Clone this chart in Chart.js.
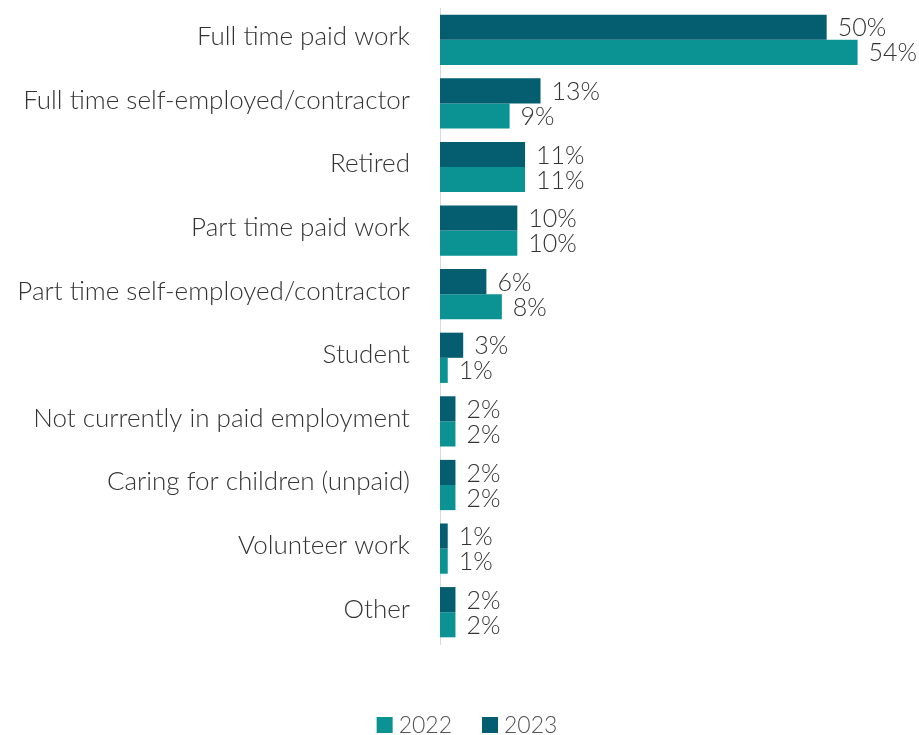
<!DOCTYPE html>
<html>
<head>
<meta charset="utf-8">
<script src="https://cdn.jsdelivr.net/npm/chart.js@4.4.1/dist/chart.umd.min.js"></script>
<style>
body{margin:0;background:#fff;}
#wrap{width:919px;height:735px;position:relative;}
</style>
</head>
<body>
<div id="wrap"><canvas id="workChart"></canvas></div>
<script>
const categories = [
"Full time paid work",
"Full time self-employed/contractor",
"Retired",
"Part time paid work",
"Part time self-employed/contractor",
"Student",
"Not currently in paid employment",
"Caring for children (unpaid)",
"Volunteer work",
"Other"
];
const values2023 = [50,13,11,10,6,3,2,2,1,2];
const values2022 = [54,9,11,10,8,1,2,2,1,2];

const FONT = "Lato, 'Open Sans', sans-serif";

// percentage text after each bar
const valueLabels = {
id:"valueLabels",
afterDatasetsDraw(chart){
const ctx = chart.ctx;
ctx.save();
ctx.font = "300 25px " + FONT;
ctx.fillStyle = "#333";
ctx.textBaseline = "middle";
ctx.textAlign = "left";
chart.data.datasets.forEach((ds,i)=>{
chart.getDatasetMeta(i).data.forEach((bar,j)=>{
ctx.fillText(ds.data[j] + "%", bar.x + 11, bar.y + 1);
});
});
ctx.restore();
}
};

// legend row at the bottom: 2022 then 2023
const bottomLegend = {
id:"bottomLegend",
afterDraw(chart){
const ctx = chart.ctx;
const items = chart.data.datasets.slice().reverse();
ctx.save();
ctx.font = "300 23px " + FONT;
ctx.textBaseline = "middle";
ctx.textAlign = "left";
const box = 16, gapText = 6, gapItem = 30;
let total = 0;
items.forEach((ds,i)=>{
total += box + gapText + ctx.measureText(ds.label).width + (i ? gapItem : 0);
});
let x = 467 - total/2;
const y = 725;
items.forEach(ds=>{
ctx.fillStyle = ds.backgroundColor;
ctx.fillRect(x, y - box/2, box, box);
x += box + gapText;
ctx.fillStyle = "#555";
ctx.fillText(ds.label, x, y + 1);
x += ctx.measureText(ds.label).width + gapItem;
});
ctx.restore();
}
};

new Chart(document.getElementById("workChart"),{
type:"bar",
data:{
labels:categories,
datasets:[
{label:"2023",data:values2023,backgroundColor:"#055e70"},
{label:"2022",data:values2022,backgroundColor:"#0b9393"}
]
},
options:{
indexAxis:"y",
responsive:true,
maintainAspectRatio:false,
animation:false,
categoryPercentage:0.79,
barPercentage:1.0,
layout:{padding:{top:8,right:15,bottom:0,left:0}},
scales:{
x:{
min:0,max:60,
grid:{display:false},
border:{display:false},
ticks:{display:false},
afterFit(scale){ scale.height = 91; }
},
y:{
grid:{display:false,drawTicks:false},
border:{display:true,color:"#d9d9d9",width:1},
ticks:{color:"#333",padding:30,labelOffset:-3,font:{family:FONT,size:26,weight:"300"}},
afterFit(scale){
scale.width = 440;
scale.paddingTop = 0;
scale.paddingBottom = 0;
}
}
},
plugins:{
legend:{display:false},
tooltip:{enabled:false}
}
},
plugins:[valueLabels,bottomLegend]
});
</script>
</body>
</html>
